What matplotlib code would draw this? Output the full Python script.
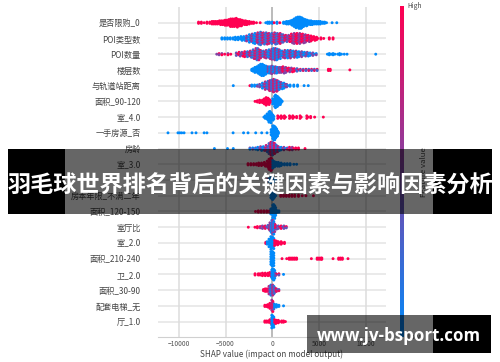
import matplotlib
matplotlib.use('Agg')
import matplotlib.pyplot as plt
import numpy as np
from matplotlib.colors import LinearSegmentedColormap
from matplotlib.patches import Rectangle

plt.rcParams['font.family'] = ['Noto Sans CJK SC', 'DejaVu Sans']

features = ['是否限购_0', 'POI类型数', 'POI数量', '楼层数', '与轨道站距离', '面积_90-120', '室_4.0',
            '一手房源_否', '房龄', '室_3.0', '', '房本年限_不满二年', '面积_120-150', '室厅比', '室_2.0',
            '面积_210-240', '卫_2.0', '面积_30-90', '配套电梯_无', '厅_1.0']
x_ticks = [-10000, -5000, 0, 5000, 10000]
title = '羽毛球世界排名背后的关键因素与影响因素分析'
site = 'www.jv-bsport.com'

# SHAP value bins, dots per bin, feature value per bin
x0 = [-7900, -7600, -7300, -7000, -6700, -6400, -6200, -6000, -5800, -5600, -5400, -5200, -5000, -4800, -4600, -4400,
      -4200, -4000, -3800, -3600, -3400, -3200, -3000, -2800, -2600, -2400, -2200, -2000, -1700, -1300,
      -700, -500, -300, 0, 200, 500, 800, 1200, 1400, 1600, 1800, 2000, 2200, 2400, 2600, 2800, 3000, 3200, 3400, 3600,
      3800, 4000, 4200, 4400, 4600, 4800, 5000, 5200, 5400, 5600, 5800, 6400, 6900]
n0 = [2, 2, 1, 2, 2, 3, 3, 3, 3, 4, 4, 4, 5, 5, 6, 7, 7, 7, 8, 6, 6, 5, 4, 4, 3, 3, 2, 2, 1, 1,
      1, 2, 2, 2, 1, 2, 1, 2, 2, 3, 3, 4, 5, 7, 9, 10, 10, 9, 7, 6, 5, 4, 4, 3, 3, 3, 3, 3, 2, 2, 1, 1, 1]
c0 = [1] * 30 + [0, 0, 0, 0, 1, 0, 1] + [0] * 26

x1 = [-5400, -5100, -4800, -4500, -4200, -3900, -3600, -3300, -3000, -2700, -2400, -2100, -1800, -1500, -1200, -900,
      -600, -300, 0, 300, 600, 900, 1200, 1500, 1800, 2100, 2400, 2700, 3000, 3300, 3600, 3900, 4200, 4500, 4800,
      5200, 5500, 6100, 6500]
n1 = [2, 2, 2, 2, 2, 3, 3, 4, 4, 5, 7, 8, 9, 10, 11, 10, 10, 9, 9, 10, 9, 9, 7, 6, 6, 8, 9, 9, 9, 8, 7, 6,
      5, 4, 3, 2, 1, 2, 2]
c1 = [0] * 9 + [0.3] * 4 + [0.5] * 7 + [0.6] * 4 + [0.85] * 8 + [1] * 7

x2 = [-5950, -5700, -5400, -5100, -4750, -4450, -3800, -3500, -3200, -2900, -2600, -2300, -2000, -1700, -1500, -1200,
      -900, -600, -300, 0, 200, 400, 600, 800, 1100, 1400, 1700, 2000, 2300, 2600, 2900, 3200, 3500, 3800, 4100, 4400,
      4700, 5900, 6100, 6300, 6500, 6700, 7000, 7200, 7400, 7700, 8000, 11070]
n2 = [1, 2, 2, 1, 2, 1, 3, 4, 4, 5, 5, 6, 8, 10, 10, 7, 6, 7, 8, 9, 10, 10, 9, 8, 6, 7, 7, 7, 6, 6, 5, 5, 4, 4, 3, 3,
      2, 1, 2, 1, 2, 1, 1, 2, 1, 1, 1, 1]
c2 = [0.8] * 6 + [0.7] * 4 + [0.5] * 7 + [0.35] * 13 + [0.2] * 7 + [0] * 11

x3 = [-2200, -2000, -1800, -1600, -1400, -1200, -1000, -800, -600, -400, -200, 0, 200, 400, 600, 800, 1000, 1200, 1500,
      1800, 2100, 2400, 2700, 3000, 3300, 3600, 3900, 4200, 4500, 4800, 6000, 6200, 8300]
n3 = [2, 3, 5, 6, 8, 10, 10, 8, 7, 6, 6, 7, 6, 6, 5, 5, 5, 6, 5, 4, 4, 3, 3, 2, 2, 2, 2, 2, 2, 2, 2, 2, 1]
c3 = [0] * 9 + [0.25] * 7 + [0.8] * 6 + [0.55] * 8 + [1] * 3

x4 = [-4180, -2400, -2200, -1900, -1600, -1300, -1000, -700, -400, -200, 0, 200, 400, 600, 800, 1000, 1300, 1600, 1900,
      2300, 2700, 3400, 3850]
n4 = [1, 1, 2, 2, 2, 3, 5, 7, 8, 9, 10, 11, 10, 9, 7, 6, 5, 3, 2, 2, 2, 1, 1]
c4 = [0, 1, 0, 0, 0.2, 0.2, 0.3, 0.4, 0.5, 0.5, 0.5, 0.5, 0.5, 0.5, 0.4, 0.3, 0.3, 0.2, 0, 0, 0, 0, 0]

x5 = [-1850, -1600, -1300, -1000, -800, -600, -400, -200, 100, 300, 400, 600, 800, 1000]
n5 = [1, 2, 3, 3, 5, 7, 6, 3, 5, 9, 11, 9, 6, 3]
c5 = [1] * 8 + [0] * 6

x6 = [-900, -700, -500, -300, -200, 0, 100, 640, 1000, 1350, 1900, 2250, 2600, 3030, 3750, 4100, 4530, 5460]
n6 = [1, 3, 6, 9, 10, 6, 4, 3, 3, 3, 3, 3, 2, 3, 3, 2, 1, 1]
c6 = [0] * 7 + [1] * 11

x7 = [-11170, -10100, -9900, -9700, -9450, -8600, -8170, -7300, -7000, -4200, -3080, -2600, -1780, -1140, -570,
      -70, 100, 200, 300, 400, 500, 650]
n7 = [1, 1, 1, 1, 1, 1, 1, 1, 1, 1, 1, 1, 1, 1, 1, 6, 12, 12, 11, 9, 6, 2]
c7 = [0] * 22

x8 = [-6200, -4800, -4180, -2400, -2100, -1800, -1500, -1200, -900, -600, -300, -100, 100, 300, 500, 700, 1000, 1300,
      1600, 1900, 2200, 2500, 2800, 3500]
n8 = [1, 1, 1, 2, 2, 2, 3, 4, 4, 6, 9, 11, 11, 9, 6, 4, 3, 3, 2, 3, 3, 2, 2, 1]
c8 = [0, 0, 0, 0.1, 0.1, 0.1, 0.2, 0.3, 0.3, 0.5, 0.6, 0.6, 0.6, 0.6, 0.5, 0.4, 0.3, 0.3, 0.5, 0.8, 0.9, 1, 1, 1]

x9 = [-2600, -2300, -2000, -1700, -1400, -1100, -800, -500, -300, -100, 100, 300, 500, 700, 1000, 1300, 1600, 1900,
      2300, 2600]
n9 = [2, 2, 2, 2, 3, 3, 4, 6, 9, 11, 7, 5, 4, 4, 3, 2, 2, 2, 1, 1]
c9 = [1] * 10 + [0] * 10

x10 = [-500, -300, -100, 100, 300]
n10 = [2, 3, 5, 5, 3]
c10 = [1, 0, 0, 0, 0]

x11 = [-100, 100, 300, 900, 1200, 1500, 1800, 2100, 2400, 2800, 3200, 3600, 4400]
n11 = [6, 7, 3, 2, 2, 2, 2, 2, 2, 2, 1, 1, 1]
c11 = [0] * 3 + [1] * 10

x12 = [-1800, -1500, -1200, -900, -600, -300, -100, 100, 200, 300, 500, 700]
n12 = [1, 2, 2, 2, 2, 2, 5, 11, 12, 9, 3, 2]
c12 = [1] * 6 + [0] * 6

x13 = [-2570, -1860, -1600, -1300, -1000, -700, -400, -200, 0, 100, 200, 400, 700, 1000, 1300, 1500]
n13 = [1, 1, 2, 2, 3, 3, 4, 8, 12, 12, 8, 4, 3, 3, 3, 2]
c13 = [1, 1, 1, 0.9, 0.8, 0.6, 0.6, 0.3, 0.3, 0.3, 0.3, 0.7, 0.7, 0.7, 0.7, 0.7]

x14 = [-700, -500, -300, -100, 100, 300, 500, 700, 1000, 1300]
n14 = [2, 3, 7, 11, 10, 5, 4, 3, 3, 2]
c14 = [1, 0, 0, 0, 0, 1, 1, 1, 1, 1]

x15 = [-100, 0, 100, 1040, 1540, 1800, 2000, 2200, 2400, 2600, 4180, 4800, 5000, 5200, 5300, 6500, 7100, 7300, 7500,
       8100]
n15 = [12, 12, 12, 1, 1, 2, 2, 2, 2, 2, 1, 2, 2, 2, 2, 1, 2, 2, 2, 1]
c15 = [0] * 3 + [1] * 17

x16 = [-1850, -1500, -1300, -1000, -700, -400, -200, 0, 100, 200, 400, 700, 1200]
n16 = [2, 2, 2, 3, 3, 3, 4, 8, 10, 9, 3, 2, 1]
c16 = [1] * 7 + [0] * 3 + [0.7, 0.7, 0]

x17 = [-950, -700, -500, -300, -100, 100, 300, 500, 700]
n17 = [2, 3, 3, 7, 9, 9, 5, 3, 2]
c17 = [1, 1, 1, 0.4, 0.4, 0.4, 0.6, 0.6, 0.6]

x18 = [-800, -600, -400, -200, 0, 100, 300, 500, 700, 1200]
n18 = [2, 2, 3, 5, 10, 6, 3, 3, 2, 1]
c18 = [1, 1, 1, 1, 0.9, 0.6, 0, 0, 0, 0]

x19 = [-800, -600, -400, -200, 0, 100, 300, 500, 700, 1000, 1200, 1400]
n19 = [2, 2, 2, 4, 11, 10, 4, 3, 3, 2, 2, 1]
c19 = [1, 1, 1, 1, 0, 0, 1, 1, 1, 1, 1, 1]

rows = [(x0, n0, c0), (x1, n1, c1), (x2, n2, c2), (x3, n3, c3), (x4, n4, c4), (x5, n5, c5), (x6, n6, c6),
        (x7, n7, c7), (x8, n8, c8), (x9, n9, c9), (x10, n10, c10), (x11, n11, c11), (x12, n12, c12),
        (x13, n13, c13), (x14, n14, c14), (x15, n15, c15), (x16, n16, c16), (x17, n17, c17), (x18, n18, c18),
        (x19, n19, c19)]

cmap = LinearSegmentedColormap.from_list('shap', ['#008afb', '#ff0052'])
W, H = 500, 362


def box(px0, py0, px1, py1):
    # pixel box (y down) to figure coords
    return [px0 / W, 1 - py1 / H, (px1 - px0) / W, (py1 - py0) / H]


fig = plt.figure(figsize=(5, 3.62), dpi=100)
ax = fig.add_axes(box(158, 7, 386, 337))
ax.set_xlim(-12240, 12170)
ax.set_ylim(19.98, -1)

for i in range(20):
    ax.axhline(i, color='#e6e6e6', lw=1.2, zorder=1)
for t in x_ticks:
    ax.axvline(t, color='#a8a8a8' if t == 0 else '#dcdcdc', lw=1.1, zorder=1)

# stack the dots of each bin around the row line, staggered a little so bins don't show as columns
for i, (xs, ns, cs) in enumerate(rows):
    px, py, pc = [], [], []
    for b, (x, n, c) in enumerate(zip(xs, ns, cs, strict=True)):
        for k in range(n):
            px.append(x + (60 if k % 2 else -60) * (n > 2))
            py.append(i + (k - (n - 1) / 2) * 0.08)
            if 0 < c < 1:
                pc.append(np.clip(c + (0.3 if (k + b) % 2 else -0.3), 0, 1))
            else:
                pc.append(c)
    ax.scatter(px, py, c=pc, cmap=cmap, vmin=0, vmax=1, s=4.4, linewidths=0, zorder=3)

for s in ['top', 'left', 'right']:
    ax.spines[s].set_visible(False)
ax.spines['bottom'].set_color('#d0d0d0')
ax.set_xticks(x_ticks)
ax.set_yticks(range(20))
ax.set_yticklabels(features, fontsize=5.9, color='#444444')
ax.tick_params(axis='y', length=0, pad=12.5)
ax.tick_params(axis='x', length=0, pad=2.5, labelsize=4.8, labelcolor='#555555')
ax.set_xlabel('SHAP value (impact on model output)', fontsize=5.85, color='#444444', labelpad=0.8)

cax = fig.add_axes(box(400, 6, 403.2, 337))
cax.imshow(np.linspace(1, 0, 256).reshape(-1, 1), cmap=cmap, aspect='auto')
cax.axis('off')
fig.text(407 / W, 1 - 6.5 / H, 'High', fontsize=4.8, color='#444444', va='center')
fig.text(407 / W, 1 - 337 / H, 'Low', fontsize=4.8, color='#444444', va='center')
fig.text(424 / W, 1 - 172 / H, 'Feature value', fontsize=5.6, color='#444444', rotation=90, va='center', ha='center')

# title band and site box painted over the chart
for x_a, x_b, y_a, y_b, a in [(8, 65, 149, 214, 1), (65, 433, 149, 214, 0.6), (433, 492, 149, 214, 1),
                              (307, 433, 315, 353, 0.6), (433, 491, 315, 353, 1)]:
    fig.add_artist(Rectangle((x_a / W, 1 - y_b / H), (x_b - x_a) / W, (y_b - y_a) / H, transform=fig.transFigure,
                             facecolor='black', edgecolor='none', alpha=a, zorder=5))
fig.text(250 / W, 1 - 185 / H, title, fontsize=16.7, fontweight='bold', color='white', ha='center', va='center',
         zorder=6)
fig.text(398.5 / W, 1 - 336 / H, site, fontsize=12.2, fontweight='bold', color='white', ha='center', va='center',
         family='Open Sans', zorder=6)

fig.savefig('out.png', dpi=100)
